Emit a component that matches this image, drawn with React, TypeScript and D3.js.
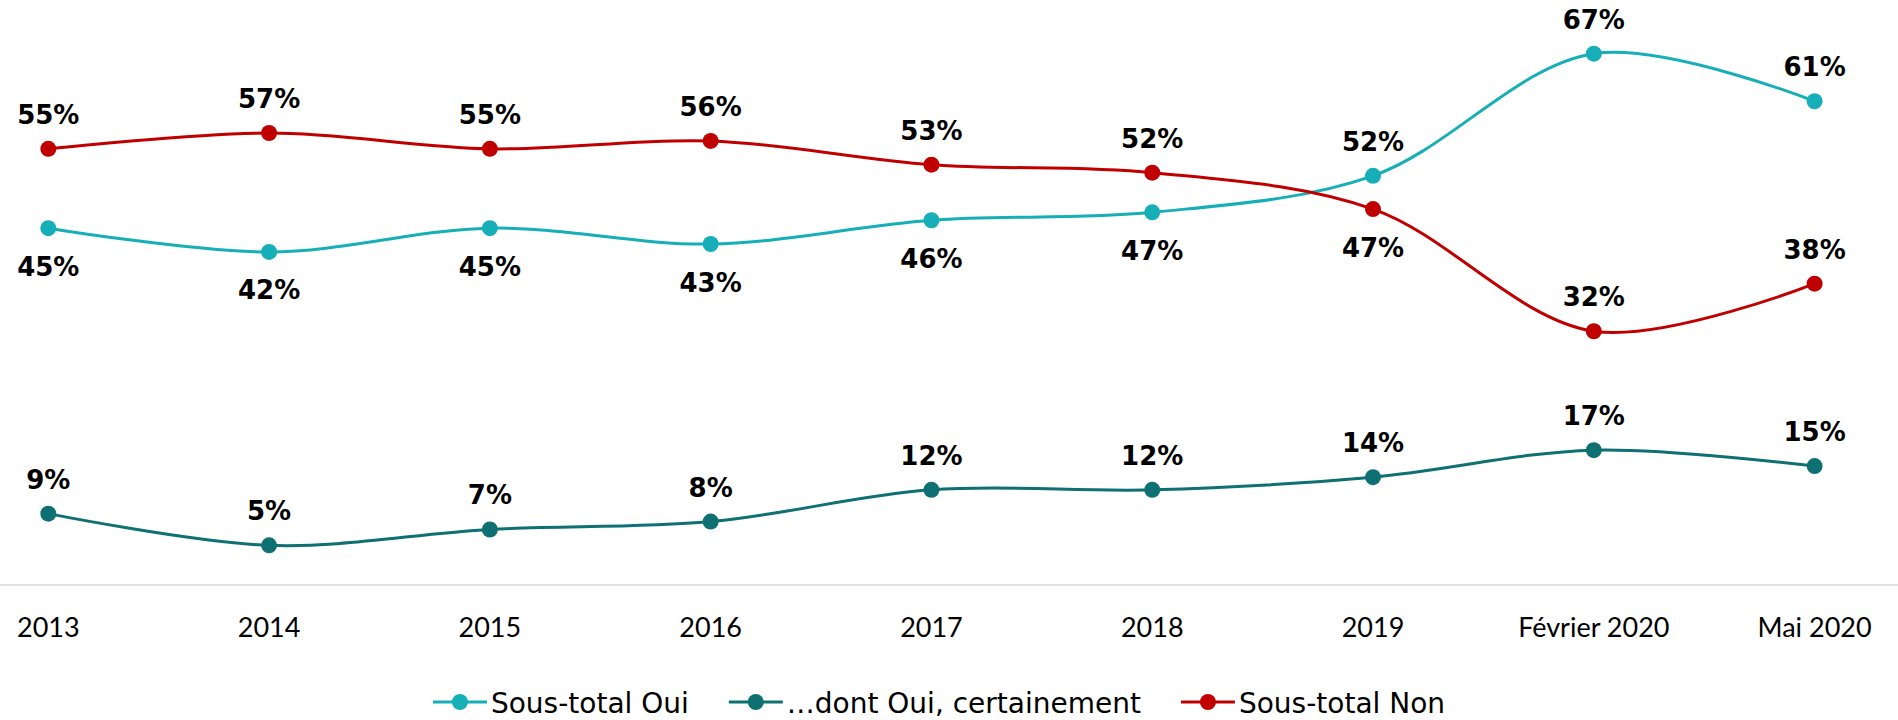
import React, { useEffect, useRef } from 'react';
import * as d3 from 'd3';

const categories = ["2013", "2014", "2015", "2016", "2017", "2018", "2019", "Février 2020", "Mai 2020"];
const sousTotalOui = [45, 42, 45, 43, 46, 47, 51.6, 67, 61];
const dontOuiCertainement = [9, 5, 7, 8, 12, 12, 13.6, 17, 15];
const sousTotalNon = [55, 57, 55, 56, 53, 52, 47.4, 32, 38];

const ouiLabelPos = ["below", "below", "below", "below", "below", "below", "above", "above", "above"];
const dontLabelPos = ["above", "above", "above", "above", "above", "above", "above", "above", "above"];
const nonLabelPos = ["above", "above", "above", "above", "above", "above", "below", "above", "above"];

const seriesNames = ["Sous-total Oui", "…dont Oui, certainement", "Sous-total Non"];
const seriesColors = ["#16AFB8", "#0E7073", "#C00000"];

const W = 1898;
const H = 720;

export default function App() {
  const ref = useRef<SVGSVGElement>(null);

  useEffect(() => {
    const svg = d3.select(ref.current);
    svg.selectAll('*').remove();

    const series = [
      { name: seriesNames[0], values: sousTotalOui, color: seriesColors[0], pos: ouiLabelPos },
      { name: seriesNames[1], values: dontOuiCertainement, color: seriesColors[1], pos: dontLabelPos },
      { name: seriesNames[2], values: sousTotalNon, color: seriesColors[2], pos: nonLabelPos },
    ];

    const x = d3.scalePoint<string>().domain(categories).range([48.3, 1814.6]);
    const y = d3.scaleLinear().domain([0, 70]).range([585, 585 - 70 * 7.93]);

    // axis line
    svg.append('line')
      .attr('x1', 0).attr('x2', W)
      .attr('y1', y(0)).attr('y2', y(0))
      .attr('stroke', '#D9D9D9').attr('stroke-width', 1.5);

    // category labels
    svg.append('g').selectAll('text').data(categories).join('text')
      .attr('x', d => x(d)!)
      .attr('y', 636.5)
      .attr('text-anchor', 'middle')
      .attr('font-family', 'Lato, "Open Sans", sans-serif')
      .attr('font-size', 27)
      .attr('fill', '#000')
      .text(d => d);

    const line = d3.line<number>()
      .x((_, i) => x(categories[i])!)
      .y(d => y(d))
      .curve(d3.curveCatmullRom.alpha(0.5));

    series.forEach(s => {
      svg.append('path')
        .attr('d', line(s.values)!)
        .attr('fill', 'none')
        .attr('stroke', s.color)
        .attr('stroke-width', 3);
      svg.append('g').selectAll('circle').data(s.values).join('circle')
        .attr('cx', (_, i) => x(categories[i])!)
        .attr('cy', d => y(d))
        .attr('r', 8)
        .attr('fill', s.color);
    });

    series.forEach(s => {
      svg.append('g').selectAll('text').data(s.values).join('text')
        .attr('x', (_, i) => x(categories[i])!)
        .attr('y', (d, i) => s.pos[i] === 'above' ? y(d) - 25 : y(d) + 47.5)
        .attr('text-anchor', 'middle')
        .attr('font-family', '"DejaVu Sans", Verdana, sans-serif')
        .attr('font-weight', 'bold')
        .attr('font-size', 26)
        .attr('fill', '#000')
        .text(d => `${Math.round(d)}%`);
    });

    // legend
    const lg = svg.append('g');
    let cx = 0;
    const markerW = 54;
    const gapText = 4;
    const gapItem = 40;
    const legendY = 702;
    series.forEach(s => {
      const g = lg.append('g').attr('transform', `translate(${cx},0)`);
      g.append('line').attr('x1', 0).attr('x2', markerW).attr('y1', legendY).attr('y2', legendY)
        .attr('stroke', s.color).attr('stroke-width', 3);
      g.append('circle').attr('cx', markerW / 2).attr('cy', legendY).attr('r', 8).attr('fill', s.color);
      const t = g.append('text')
        .attr('x', markerW + gapText).attr('y', 713)
        .attr('font-family', '"DejaVu Sans", Verdana, sans-serif')
        .attr('font-size', 28)
        .attr('fill', '#000')
        .text(s.name);
      const tw = (t.node() as SVGTextElement).getComputedTextLength();
      cx += markerW + gapText + tw + gapItem;
    });
    const total = cx - gapItem;
    lg.attr('transform', `translate(${939 - total / 2},0)`);
  }, []);

  return (
    <svg
      ref={ref}
      width={W}
      height={H}
      style={{ position: 'absolute', left: 0, top: 0, display: 'block', background: '#fff' }}
    />
  );
}
